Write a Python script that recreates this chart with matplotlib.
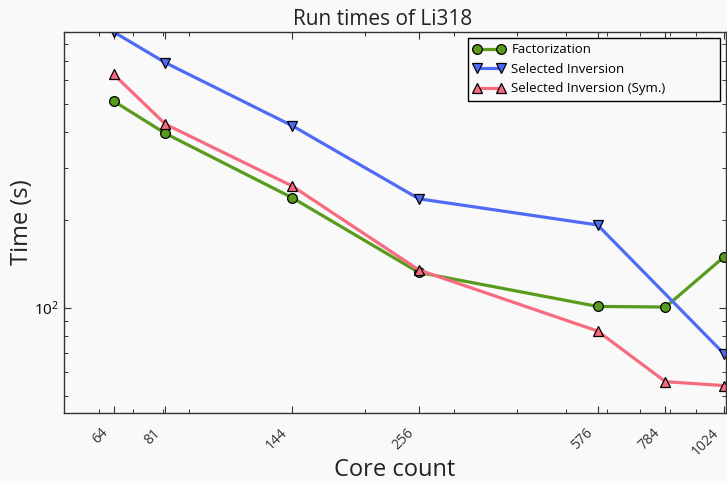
import matplotlib
matplotlib.use("Agg")
import matplotlib.pyplot as plt
import matplotlib.transforms as mtransforms
from matplotlib.ticker import FixedLocator, FixedFormatter, LogLocator, NullFormatter

# core counts and run times (seconds)
cores = [64, 81, 144, 256, 576, 784, 1024]
fact_times = [510, 395, 238, 132, 101, 100.5, 149.5]
inv_cores = [64, 81, 144, 256, 576, 1024]
inv_times = [880, 690, 420, 236, 192, 69.4]
sym_times = [630, 425, 261, 134.6, 83.2, 55.8, 54.1]

tick_labels = [str(c) for c in cores]

bg = "#f9f9f9"
plt.rcParams["font.family"] = ["Open Sans", "DejaVu Sans"]
plt.rcParams["mathtext.fontset"] = "cm"

fig = plt.figure(figsize=(7.27, 4.83), dpi=100, facecolor=bg)
ax = fig.add_axes([0.088, 0.145, 0.910, 0.789], facecolor=bg)

style = dict(lw=2.3, ms=7, mec="black", mew=0.9)
ax.plot(cores, fact_times, "-o", color="#599b1c", label="Factorization", **style)
ax.plot(inv_cores, inv_times, "-v", color="#4f6bf5", label="Selected Inversion", **style)
ax.plot(cores, sym_times, "-^", color="#f76b7f", label="Selected Inversion (Sym.)", **style)

ax.set_xscale("log")
ax.set_yscale("log")
ax.set_xlim(51.1, 1030)
ax.set_ylim(43.6, 880)

ax.xaxis.set_major_locator(FixedLocator(cores))
ax.xaxis.set_major_formatter(FixedFormatter(tick_labels))
ax.xaxis.set_minor_locator(LogLocator(base=10, subs=range(2, 10)))
ax.xaxis.set_minor_formatter(NullFormatter())
ax.yaxis.set_minor_formatter(NullFormatter())

ax.tick_params(which="both", direction="in", top=True, right=True, color="#333333")
ax.tick_params(which="major", length=5, width=0.8)
ax.tick_params(which="minor", length=3, width=0.7)
ax.tick_params(axis="x", which="major", labelsize=10, rotation=45, pad=9)
ax.tick_params(axis="y", which="major", labelsize=11)

# rotated labels sit just left of their ticks
shift = mtransforms.ScaledTranslation(-2 / 100, 0, fig.dpi_scale_trans)
for lbl in ax.get_xticklabels():
    lbl.set_ha("right")
    lbl.set_color("#333333")
    lbl.set_transform(lbl.get_transform() + shift)

for sp in ax.spines.values():
    sp.set_color("#333333")
    sp.set_linewidth(1.0)

ax.set_title("Run times of Li318", fontsize=15, color="#222222", pad=5, x=0.481)
ax.set_xlabel("Core count", fontsize=17, color="#222222")
ax.xaxis.set_label_coords(0.5, -0.119)
ax.set_ylabel("Time (s)", fontsize=17, color="#222222", labelpad=0)

leg = ax.legend(loc="upper left", bbox_to_anchor=(0.6105, 0.0, 0.381, 0.984),
                mode="expand", borderaxespad=0, numpoints=2, fontsize=9.5,
                fancybox=False, edgecolor="black", facecolor=bg, framealpha=1,
                handlelength=2.4, handletextpad=0.5)
leg.get_frame().set_linewidth(1.0)

fig.savefig("out.png", dpi=100, facecolor=bg)
